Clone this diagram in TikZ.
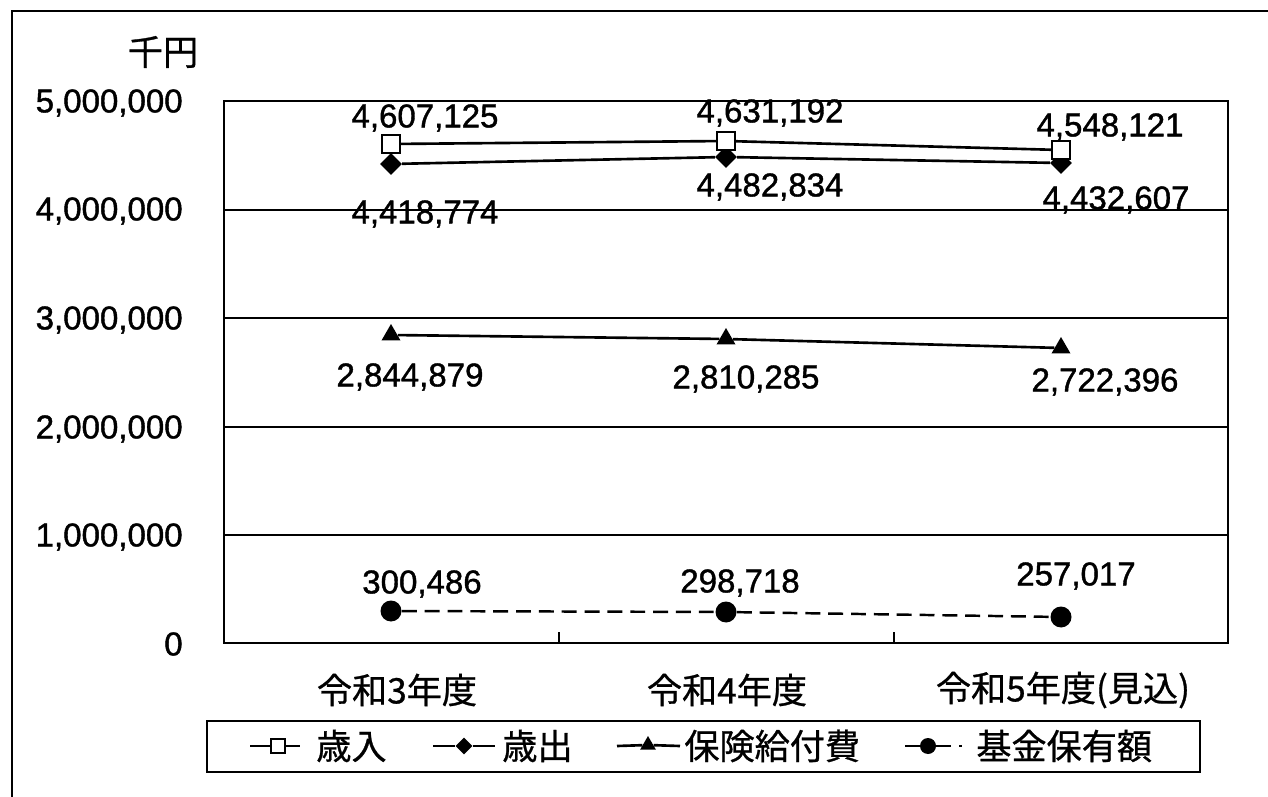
\documentclass[tikz,border=0pt]{standalone}
\usepackage{fontspec}
\setmainfont{Liberation Sans}
\newfontfamily\numfont[FakeBold=1.2]{Liberation Sans}
\newfontfamily\jpfont[FakeBold=0.8]{Noto Sans CJK JP}
\usepackage{tikz}
\usetikzlibrary{shapes.geometric}
\def\numsize{\fontsize{18.8}{22}\selectfont\numfont}
\def\jpsize{\fontsize{20}{24}\selectfont\jpfont}
\tikzset{
	sqmark/.style={draw,fill=white,rectangle,minimum size=0.36cm,inner sep=0pt,line width=1.2pt},
	dmmark/.style={fill=black,diamond,minimum size=0.44cm,inner sep=0pt},
	trmark/.style={fill=black,regular polygon,regular polygon sides=3,minimum size=0.44cm,inner sep=0pt},
	cimark/.style={fill=black,circle,minimum size=0.42cm,inner sep=0pt},
	serie/.style={line width=1.5pt},
	fundline/.style={line width=1.4pt,dash pattern=on 8.5pt off 4.5pt},
	numlbl/.style={font=\numsize,inner sep=0pt},
	jplbl/.style={font=\jpsize,inner sep=0pt}
}

\begin{document}
\begin{tikzpicture}[x=0.02cm,y=-0.02cm]
	\useasboundingbox (0,0) rectangle (1268,797);
	% outer frame
	\draw[line width=1pt] (12,797)--(12,11)--(1268,11);
	% plot area
	\foreach \gy in {210,318,427,535}
		\draw[line width=1.3pt] (224,\gy)--(1228,\gy);
	\draw[line width=1.5pt] (224,101) rectangle (1228,643);
	\foreach \tx in {559,894}
		\draw[line width=1.3pt] (\tx,643)--(\tx,632);
	% axis labels
	\node[jplbl] (unit) at (163,52) {千円};
	\node[numlbl,anchor=east] (y5) at (183,103) {5,000,000};
	\node[numlbl,anchor=east] (y4) at (183,211) {4,000,000};
	\node[numlbl,anchor=east] (y3) at (183,320) {3,000,000};
	\node[numlbl,anchor=east] (y2) at (183,429) {2,000,000};
	\node[numlbl,anchor=east] (y1) at (183,537) {1,000,000};
	\node[numlbl,anchor=east] (y0) at (183,644) {0};
	\node[jplbl] (cat1) at (397,690) {令和3年度};
	\node[jplbl] (cat2) at (727,690) {令和4年度};
	\node[jplbl] (cat3) at (1063,690) {令和5年度(見込)};
	% expenditure
	\node[dmmark] (outa) at (391,164) {};
	\node[dmmark] (outb) at (726,157) {};
	\node[dmmark] (outc) at (1061,163) {};
	\draw[serie] (outa)--(outb)--(outc);
	% revenue
	\node[sqmark] (ina) at (391,144) {};
	\node[sqmark] (inb) at (726,141) {};
	\node[sqmark] (inc) at (1061,150) {};
	\draw[serie] (ina)--(inb)--(inc);
	% benefits
	\node[trmark] (bena) at (391,335) {};
	\node[trmark] (benb) at (726,339) {};
	\node[trmark] (benc) at (1061,348) {};
	\draw[serie] (bena)--(benb)--(benc);
	% fund
	\node[cimark] (funda) at (391,611) {};
	\node[cimark] (fundb) at (726,612) {};
	\node[cimark] (fundc) at (1061,617) {};
	\draw[fundline] (funda)--(fundb)--(fundc);
	% data labels
	\node[numlbl] (ina-l) at (425,118) {4,607,125};
	\node[numlbl] (inb-l) at (770,113) {4,631,192};
	\node[numlbl] (inc-l) at (1110,127) {4,548,121};
	\node[numlbl] (outa-l) at (425,214) {4,418,774};
	\node[numlbl] (outb-l) at (770,187) {4,482,834};
	\node[numlbl] (outc-l) at (1116,200) {4,432,607};
	\node[numlbl] (bena-l) at (410,377) {2,844,879};
	\node[numlbl] (benb-l) at (746,379) {2,810,285};
	\node[numlbl] (benc-l) at (1105,382) {2,722,396};
	\node[numlbl] (funda-l) at (422,584) {300,486};
	\node[numlbl] (fundb-l) at (740,583) {298,718};
	\node[numlbl] (fundc-l) at (1076,576) {257,017};
	% legend
	\draw[line width=1.1pt] (207,721) rectangle (1200,772);
	\coordinate (lg1a) at (250,746);
	\coordinate (lg1b) at (300,746);
	\node[sqmark,minimum size=0.27cm] (lg1m) at (278,746) {};
	\draw[serie] (lg1a)--(lg1m)--(lg1b);
	\node[jplbl,anchor=west] (lg1t) at (316,746) {歳入};
	\coordinate (lg2a) at (433,746);
	\coordinate (lg2b) at (495,746);
	\node[dmmark,minimum size=0.34cm] (lg2m) at (464,746) {};
	\draw[serie] (lg2a)--(lg2m)--(lg2b);
	\node[jplbl,anchor=west] (lg2t) at (502,746) {歳出};
	\coordinate (lg3a) at (617,746);
	\coordinate (lg3b) at (680,746);
	\node[trmark,minimum size=0.36cm] (lg3m) at (648,745) {};
	\draw[serie] (lg3a)--(lg3m)--(lg3b);
	\node[jplbl,anchor=west] (lg3t) at (684,746) {保険給付費};
	\coordinate (lg4a) at (905,746);
	\coordinate (lg4b) at (962,746);
	\node[cimark,minimum size=0.32cm] (lg4m) at (928,746) {};
	\draw[fundline] (lg4a)--(lg4m)--(lg4b);
	\node[jplbl,anchor=west] (lg4t) at (976,746) {基金保有額};
\end{tikzpicture}
\end{document}
